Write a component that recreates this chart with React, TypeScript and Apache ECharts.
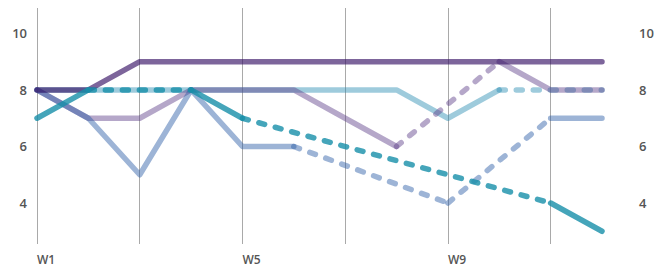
import React, { useEffect, useRef } from 'react';
import * as echarts from 'echarts';

const weeks = ['W1', 'W2', 'W3', 'W4', 'W5', 'W6', 'W7', 'W8', 'W9', 'W10', 'W11', 'W12'];
const yTickValues = [4, 6, 8, 10];

const darkPurple = [8, 8, 9, 9, 9, 9, 9, 9, 9, 9, 9, 9];
const lavender = [8, 7, 7, 8, 8, 8, 7, 6, null, 9, 8, 8];
const periwinkle = [8, 7, 5, 8, 6, 6, null, null, 4, null, 7, 7];
const lightCyan = [8, 8, 8, 8, 8, 8, 8, 8, 7, 8, null, 8];
const teal = [7, 8, null, 8, 7, null, null, null, null, null, 4, 3];

// drawn bottom to top; translucent strokes so overlaps darken
const seriesDefs = [
  { name: 'Cyan', color: '#278bb1', opacity: 0.45, data: lightCyan },
  { name: 'Lavender', color: '#5b3b87', opacity: 0.45, data: lavender },
  { name: 'Periwinkle', color: '#2558a4', opacity: 0.45, data: periwinkle },
  { name: 'Purple', color: '#371266', opacity: 0.65, data: darkPurple },
  { name: 'Teal', color: '#168ea9', opacity: 0.8, data: teal },
];

function gapSegments(data: (number | null)[]) {
  const segs: (number | null)[][] = [];
  let prev = -1;
  data.forEach((v, i) => {
    if (v == null) return;
    if (prev >= 0 && i - prev > 1) {
      const arr: (number | null)[] = data.map(() => null);
      arr[prev] = data[prev];
      arr[i] = v;
      segs.push(arr);
    }
    prev = i;
  });
  return segs;
}

export default function App() {
  const ref = useRef<HTMLDivElement>(null);
  useEffect(() => {
    if (!ref.current) return;
    const chart = echarts.init(ref.current, undefined, { renderer: 'svg' });
    const series: any[] = [];
    seriesDefs.forEach((s) => {
      series.push({
        type: 'line',
        name: s.name,
        data: s.data,
        connectNulls: false,
        showSymbol: false,
        symbol: 'none',
        silent: true,
        lineStyle: { color: s.color, width: 5.5, opacity: s.opacity, cap: 'round', join: 'round' },
        itemStyle: { color: s.color },
      });
      gapSegments(s.data).forEach((seg, k) => {
        series.push({
          type: 'line',
          name: s.name + '-gap' + k,
          data: seg,
          connectNulls: true,
          showSymbol: false,
          symbol: 'none',
          silent: true,
          lineStyle: { color: s.color, width: 5.5, opacity: s.opacity, type: [6, 11], cap: 'round', join: 'round' },
          itemStyle: { color: s.color },
        });
      });
    });
    const labelStyle = {
      color: '#555',
      fontFamily: '"Open Sans", sans-serif',
      fontWeight: 600,
      fontSize: 13,
    };
    chart.setOption({
      animation: false,
      grid: { left: 37, right: 62, top: 8, bottom: 24, containLabel: false },
      xAxis: {
        type: 'category',
        data: weeks,
        boundaryGap: false,
        axisLine: { show: false },
        axisTick: { show: false },
        axisLabel: { ...labelStyle, fontSize: 12, interval: 3, align: 'left', margin: 9 },
        splitLine: { show: true, interval: 1, lineStyle: { color: '#a9a9a9', width: 1 } },
      },
      yAxis: [
        {
          type: 'value',
          min: 2.55,
          max: 10.9,
          position: 'left',
          axisLine: { show: false },
          axisTick: { show: false },
          splitLine: { show: false },
          axisLabel: { ...labelStyle, customValues: yTickValues, margin: 10 },
        },
        {
          type: 'value',
          min: 2.55,
          max: 10.9,
          position: 'right',
          axisLine: { show: false },
          axisTick: { show: false },
          splitLine: { show: false },
          axisLabel: { ...labelStyle, customValues: yTickValues, margin: 37 },
        },
      ],
      series,
    });
    return () => chart.dispose();
  }, []);
  return (
    <>
      <style>{'body{margin:0;background:#fff}'}</style>
      <div ref={ref} style={{ width: 664, height: 268 }} />
    </>
  );
}
